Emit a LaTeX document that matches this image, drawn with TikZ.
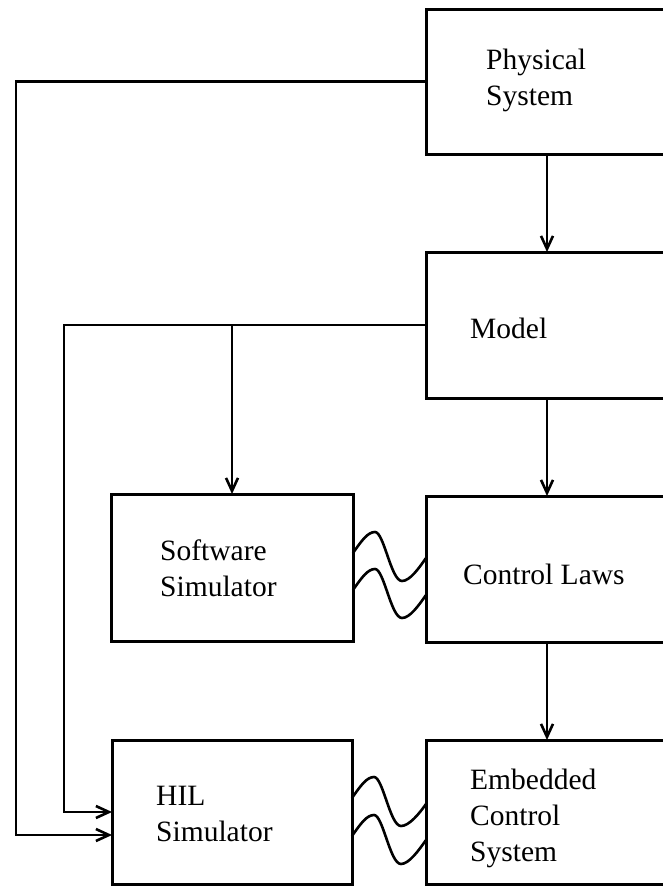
\documentclass[tikz,border=0pt]{standalone}
\usepackage{fontspec}
\setmainfont{Liberation Serif}
\usetikzlibrary{arrows.meta,calc}

\tikzset{
  blockbox/.style={draw, line width=3pt, outer sep=0pt, inner sep=0pt,
    anchor=north west, minimum width=242pt, minimum height=146pt},
  lbl/.style={anchor=west, align=left, inner sep=0pt,
    font=\fontsize{29.5}{36}\selectfont},
  arr/.style={line width=2.6pt, -{Straight Barb[length=13pt,width=12pt,line width=2.6pt]}},
  link/.style={line width=2.6pt},
  wave/.style={to path={.. controls +(9,-13) and +(-7,0) .. ($(\tikztostart)+(22,-21)$)
      .. controls +(9,0) and +(-11,0) .. ($(\tikztostart)+(49,28)$)
      .. controls +(8,0) and +(-7,10) .. (\tikztotarget)}}
}

\begin{document}
\begin{tikzpicture}[x=1pt, y=-1pt]
  \useasboundingbox (0,0) rectangle (663,886);
  \clip (0,0) rectangle (663,886);

  % right column: the chain from plant to embedded system
  \node[blockbox, minimum height=145pt] (ps)  at (426,9)   {};
  \node[blockbox]                      (mdl) at (426,252) {};
  \node[blockbox]                      (cl)  at (426,496) {};
  \node[blockbox, minimum height=144pt] (ecs) at (426,740) {};

  % left column: simulators
  \node[blockbox, minimum height=147pt] (ss)  at (111,494) {};
  \node[blockbox, minimum width=240pt, minimum height=144pt] (hil) at (112,740) {};

  % box texts
  \node[lbl] (tps)  at (486,80)  {Physical\\System};
  \node[lbl] (tmdl) at (470,328) {Model};
  \node[lbl] (tcl)  at (463,574) {Control Laws};
  \node[lbl] (tss)  at (160,568) {Software\\Simulator};
  \node[lbl] (thil) at (156,814) {HIL\\Simulator};
  \node[lbl] (tecs) at (470,818) {Embedded\\Control\\System};

  % vertical flow
  \draw[arr] (ps.south)  -- (mdl.north);
  \draw[arr] (mdl.south) -- (cl.north);
  \draw[arr] (cl.south)  -- (ecs.north);

  % model feeds both simulators
  \draw[arr] (mdl.west) -| ([xshift=-48pt]hil.west) -- (hil.west);
  \draw[arr] (mdl.west -| ss.north) -- (ss.north);

  % physical system feeds the HIL simulator
  \draw[arr] (ps.west) -| ([xshift=-96pt,yshift=-23pt]hil.west)
             -- ([yshift=-23pt]hil.west);

  % wavy couplings
  \draw[link] ([yshift=14.5pt]ss.east)  to[wave] ([yshift=11pt]cl.west);
  \draw[link] ([yshift=-22.5pt]ss.east) to[wave] ([yshift=-26pt]cl.west);
  \draw[link] ([yshift=14pt]hil.east)   to[wave] ([yshift=8pt]ecs.west);
  \draw[link] ([yshift=-24pt]hil.east)  to[wave] ([yshift=-28pt]ecs.west);
\end{tikzpicture}
\end{document}
